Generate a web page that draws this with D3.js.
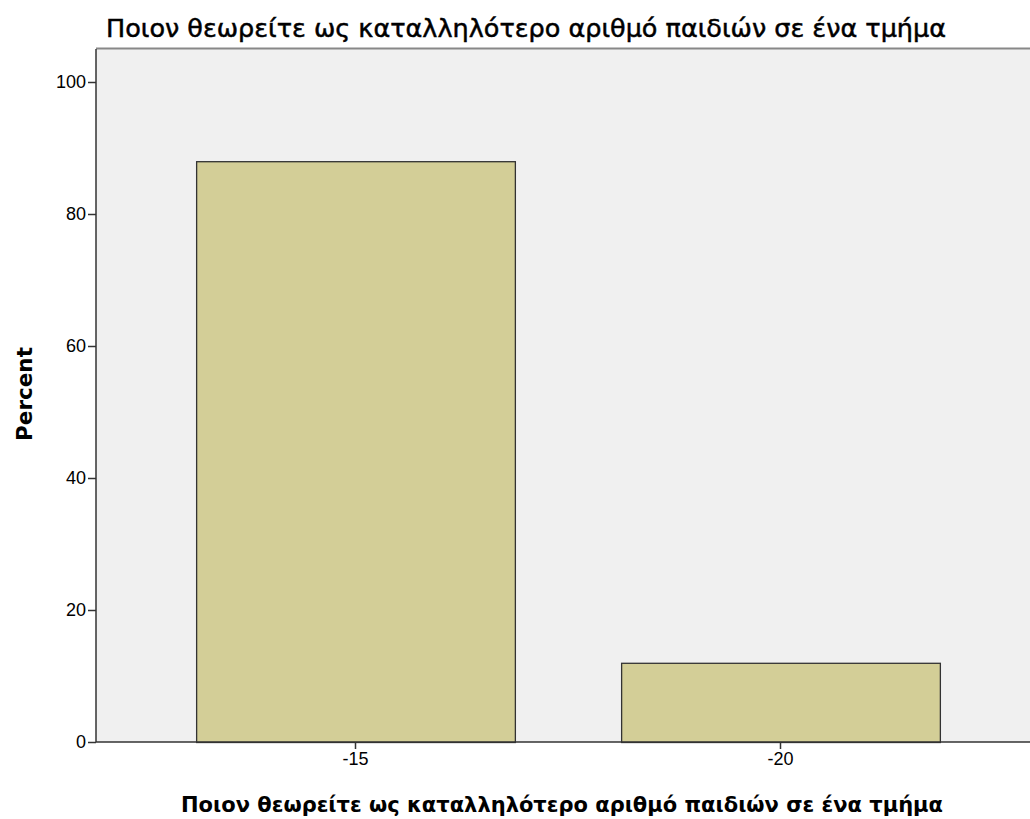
<!DOCTYPE html>
<html><head><meta charset="utf-8">
<script src="https://cdn.jsdelivr.net/npm/d3@7/dist/d3.min.js"></script>
<style>
html,body{margin:0;padding:0;background:#fff;}
svg{display:block;}
text{font-family:"Liberation Sans",Arial,sans-serif;fill:#000;}
</style></head>
<body>
<svg id="chart" width="1030" height="819"></svg>
<script>
const categories = ["-15", "-20"];
const percents = [88, 12];
const yTicks = [0, 20, 40, 60, 80, 100];
const titleText = "Ποιον θεωρείτε ως καταλληλότερο αριθμό παιδιών σε ένα τμήμα";
const xLabel = "Ποιον θεωρείτε ως καταλληλότερο αριθμό παιδιών σε ένα τμήμα";
const yLabel = "Percent";

(function () {
const svg = d3.select("#chart");
const pLeft = 96, pTop = 49, pBottom = 742, rightRange = 1040;

const y = d3.scaleLinear().domain([0, 105]).range([pBottom, pTop]);
const x = d3.scaleBand().domain(categories).range([pLeft, rightRange])
  .paddingInner(0.25).paddingOuter(0.2356);

svg.append("rect").attr("x", pLeft).attr("y", pTop)
  .attr("width", 1030 - pLeft).attr("height", pBottom - pTop).attr("fill", "#f0f0f0");
svg.append("line").attr("x1", pLeft).attr("x2", 1030).attr("y1", pTop - 0.5).attr("y2", pTop - 0.5)
  .attr("stroke", "#888").attr("stroke-width", 2);

svg.selectAll("rect.bar").data(categories).join("rect").attr("class", "bar")
  .attr("x", d => x(d) + 0.5)
  .attr("y", (d, i) => y(percents[i]) + 0.5)
  .attr("width", x.bandwidth())
  .attr("height", (d, i) => pBottom - y(percents[i]))
  .attr("fill", "#d3ce97").attr("stroke", "#333").attr("stroke-width", 1.3);

const yAxis = svg.append("g").attr("transform", `translate(${pLeft},0)`)
  .call(d3.axisLeft(y).tickValues(yTicks).tickSize(8).tickPadding(2).tickFormat(d3.format("d")));
yAxis.select(".domain").attr("stroke", "#333").attr("stroke-width", 1.5).attr("d", `M0,${pTop}V${pBottom}`);
yAxis.selectAll(".tick line").attr("stroke", "#333").attr("stroke-width", 1.5);
yAxis.selectAll("text").style("font-size", "18px").attr("fill", "#000");

const xAxis = svg.append("g").attr("transform", `translate(0,${pBottom})`)
  .call(d3.axisBottom(x).tickSize(7).tickPadding(3));
xAxis.select(".domain").attr("stroke", "#333").attr("stroke-width", 1.5).attr("d", `M${pLeft},0H1030`);
xAxis.selectAll(".tick line").attr("stroke", "#333").attr("stroke-width", 1.5);
xAxis.selectAll("text").style("font-size", "18px").attr("fill", "#000");

svg.append("text").attr("x", 106).attr("y", 37).text(titleText)
  .style("font-family", "'DejaVu Sans'").style("font-size", "25.5px").style("font-weight", "normal")
  .attr("stroke", "#000").attr("stroke-width", 0.5);
svg.append("text").attr("x", 562).attr("y", 812).attr("text-anchor", "middle").text(xLabel)
  .style("font-family", "'DejaVu Sans'").style("font-size", "21px").style("font-weight", "bold");
svg.append("text").attr("transform", "translate(32,394) rotate(-90)").attr("text-anchor", "middle")
  .text(yLabel).style("font-family", "'DejaVu Sans'").style("font-size", "21.5px").style("font-weight", "bold");
})();
</script>
</body></html>
